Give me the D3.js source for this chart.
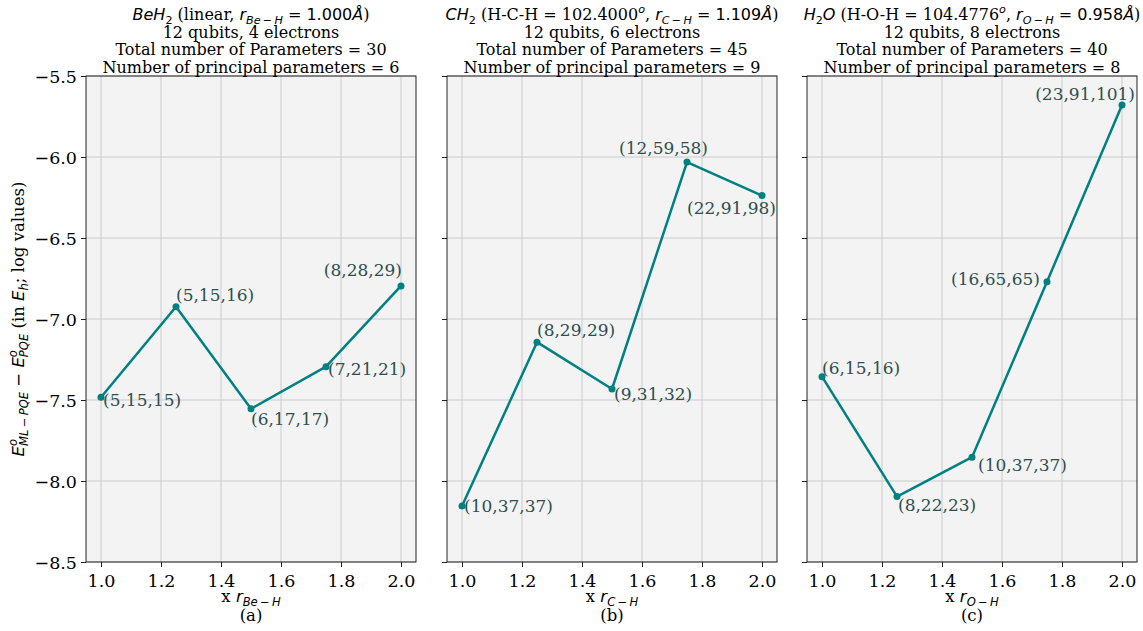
<!DOCTYPE html>
<html><head><meta charset="utf-8">
<script src="https://cdn.jsdelivr.net/npm/d3@7"></script>
<style>body{margin:0;background:#fff}svg{display:block}</style>
</head><body><svg id="c" width="1143" height="631"></svg>
<script>
const xValues = [1.0, 1.25, 1.5, 1.75, 2.0];
const beh2Values = [-7.483, -6.924, -7.554, -7.294, -6.796];
const ch2Values = [-8.154, -7.143, -7.432, -6.031, -6.238];
const h2oValues = [-7.356, -8.096, -7.853, -6.770, -5.679];
const beh2Labels = ["(5,15,15)", "(5,15,16)", "(6,17,17)", "(7,21,21)", "(8,28,29)"];
const ch2Labels = ["(10,37,37)", "(8,29,29)", "(9,31,32)", "(12,59,58)", "(22,91,98)"];
const h2oLabels = ["(6,15,16)", "(8,22,23)", "(10,37,37)", "(16,65,65)", "(23,91,101)"];
const xTicks = [1.0, 1.2, 1.4, 1.6, 1.8, 2.0];
const yTicks = [-8.5, -8.0, -7.5, -7.0, -6.5, -6.0, -5.5];
const panelTags = ["(a)", "(b)", "(c)"];
const bondNames = ["Be\u2009\u2212\u2009H", "C\u2009\u2212\u2009H", "O\u2009\u2212\u2009H"];
const electrons = [4, 6, 8];
const totalParams = [30, 45, 40];
const principalParams = [6, 9, 8];

// label placement (style, not data): [anchor, dx, dy]
const placeA = [["start",2,9],["start",0,-6],["start",0,16],["start",2,8],["end",1,-10]];
const placeB = [["start",2,6],["start",0,-6],["start",2,11.5],["start",-68,-8.5],["start",-75,18]];
const placeC = [["start",0,-3],["start",1,14],["start",6,14],["end",-7,3],["end",13,-4.5]];

const svg = d3.select("#c");
const PW = 330, PTOP = 76, PBOT = 562;
const lefts = [86, 447, 807];
const SERIF = "DejaVu Serif", SANS = "DejaVu Sans";
const TEAL = "#008080", LABEL = "#2F4F4F";

function rich(textSel, segs, fs) {
  let cur = 0, prev = null;
  segs.forEach(s => {
    const size = (s.pos === "sub" || s.pos === "sup") ? fs * 0.7 : fs;
    const target = s.pos === "sub" ? fs * 0.24 : s.pos === "sup" ? -fs * 0.42 : 0;
    const ts = textSel.append("tspan").text(s.t)
      .attr("font-family", s.f === "serif" ? SERIF : SANS)
      .attr("font-style", s.i ? "italic" : "normal")
      .attr("font-size", size)
      .attr("dy", target - cur);
    if (s.back && prev) ts.attr("dx", -prev.node().getComputedTextLength());
    cur = target; prev = ts;
  });
}

const titleLine1 = [
  [{t:"BeH",f:"sans",i:1},{t:"2",f:"sans",pos:"sub"},{t:" (linear, ",f:"serif"},{t:"r",f:"sans",i:1},{t:bondNames[0],f:"sans",i:1,pos:"sub"},{t:" = 1.000",f:"sans"},{t:"Å",f:"sans",i:1},{t:")",f:"serif"}],
  [{t:"CH",f:"sans",i:1},{t:"2",f:"sans",pos:"sub"},{t:" (H-C-H = 102.4000",f:"serif"},{t:"o",f:"sans",i:1,pos:"sup"},{t:", ",f:"serif"},{t:"r",f:"sans",i:1},{t:bondNames[1],f:"sans",i:1,pos:"sub"},{t:" = 1.109",f:"sans"},{t:"Å",f:"sans",i:1},{t:")",f:"serif"}],
  [{t:"H",f:"sans",i:1},{t:"2",f:"sans",pos:"sub"},{t:"O",f:"sans",i:1},{t:" (H-O-H = 104.4776",f:"serif"},{t:"o",f:"sans",i:1,pos:"sup"},{t:", ",f:"serif"},{t:"r",f:"sans",i:1},{t:bondNames[2],f:"sans",i:1,pos:"sub"},{t:" = 0.958",f:"sans"},{t:"Å",f:"sans",i:1},{t:")",f:"serif"}]
];

const panels = [
  {vals: beh2Values, labels: beh2Labels, place: placeA},
  {vals: ch2Values, labels: ch2Labels, place: placeB},
  {vals: h2oValues, labels: h2oLabels, place: placeC}
];

const y = d3.scaleLinear().domain([-8.5, -5.5]).range([PBOT, PTOP]);
const fmt = d3.format(".1f");

panels.forEach((p, k) => {
  const L = lefts[k];
  const x = d3.scaleLinear().domain([0.95, 2.05]).range([L, L + PW]);
  const g = svg.append("g");
  g.append("rect").attr("x", L).attr("y", PTOP).attr("width", PW).attr("height", PBOT - PTOP).attr("fill", "#f3f3f3");
  g.selectAll(".gx").data(xTicks).join("line")
    .attr("x1", d => x(d)).attr("x2", d => x(d)).attr("y1", PTOP).attr("y2", PBOT)
    .attr("stroke", "#cbcbcb").attr("stroke-width", 1);
  g.selectAll(".gy").data(yTicks).join("line")
    .attr("x1", L).attr("x2", L + PW).attr("y1", d => y(d)).attr("y2", d => y(d))
    .attr("stroke", "#cbcbcb").attr("stroke-width", 1);
  const xa = g.append("g").attr("transform", `translate(0,${PBOT})`)
    .call(d3.axisBottom(x).tickValues(xTicks).tickFormat(fmt).tickSize(5).tickPadding(4));
  const ya = g.append("g").attr("transform", `translate(${L},0)`)
    .call(d3.axisLeft(y).tickValues(yTicks).tickFormat(k === 0 ? fmt : () => "").tickSize(5).tickPadding(4));
  [xa, ya].forEach(a => {
    a.select(".domain").remove();
    a.selectAll(".tick line").attr("stroke", "#222").attr("stroke-width", 1);
    a.selectAll(".tick text").attr("font-family", SERIF).attr("font-size", 17.5).attr("fill", "#000");
  });
  xa.selectAll(".tick text").attr("dy", "0.9em");
  ya.selectAll(".tick text").attr("dy", "0.36em");
  g.append("rect").attr("x", L).attr("y", PTOP).attr("width", PW).attr("height", PBOT - PTOP)
    .attr("fill", "none").attr("stroke", "#222").attr("stroke-width", 1);

  const pts = xValues.map((xv, i) => [xv, p.vals[i]]);
  g.append("path").datum(pts)
    .attr("d", d3.line().x(d => x(d[0])).y(d => y(d[1])))
    .attr("fill", "none").attr("stroke", TEAL).attr("stroke-width", 2.5).attr("stroke-linejoin", "round");
  g.selectAll(".pt").data(pts).join("circle")
    .attr("cx", d => x(d[0])).attr("cy", d => y(d[1])).attr("r", 3.5).attr("fill", TEAL);
  g.selectAll(".lab").data(pts).join("text")
    .attr("x", (d, i) => x(d[0]) + p.place[i][1])
    .attr("y", (d, i) => y(d[1]) + p.place[i][2])
    .attr("text-anchor", (d, i) => p.place[i][0])
    .attr("font-family", SERIF).attr("font-size", 17).attr("fill", LABEL)
    .text((d, i) => p.labels[i]);

  const cx = L + PW / 2;
  const t1 = svg.append("text").attr("x", cx).attr("y", 20).attr("text-anchor", "middle").attr("fill", "#000");
  rich(t1, titleLine1[k], 16);
  const lines = [`12 qubits, ${electrons[k]} electrons`, `Total number of Parameters = ${totalParams[k]}`, `Number of principal parameters = ${principalParams[k]}`];
  lines.forEach((s, j) => {
    svg.append("text").attr("x", cx).attr("y", 37.5 + j * 17.5).attr("text-anchor", "middle")
      .attr("font-family", SERIF).attr("font-size", 16).attr("fill", "#000").text(s);
  });
  const xl = svg.append("text").attr("x", cx).attr("y", 602).attr("text-anchor", "middle").attr("fill", "#000");
  rich(xl, [{t:"x ",f:"serif"},{t:"r",f:"sans",i:1},{t:bondNames[k],f:"sans",i:1,pos:"sub"}], 16.5);
  svg.append("text").attr("x", cx).attr("y", 621).attr("text-anchor", "middle")
    .attr("font-family", SERIF).attr("font-size", 16.5).attr("fill", "#000").text(panelTags[k]);
});

const yl = svg.append("text").attr("transform", `translate(24,${(PTOP + PBOT) / 2}) rotate(-90)`)
  .attr("text-anchor", "middle").attr("fill", "#000");
rich(yl, [
  {t:"E",f:"sans",i:1},{t:"o",f:"sans",i:1,pos:"sup"},{t:"ML\u2009\u2212\u2009PQE",f:"sans",i:1,pos:"sub",back:1},
  {t:" \u2212 ",f:"sans"},
  {t:"E",f:"sans",i:1},{t:"o",f:"sans",i:1,pos:"sup"},{t:"PQE",f:"sans",i:1,pos:"sub",back:1},
  {t:" (in ",f:"serif"},{t:"E",f:"sans",i:1},{t:"h",f:"sans",i:1,pos:"sub"},{t:"; log values)",f:"serif"}
], 16.5);
</script></body></html>
